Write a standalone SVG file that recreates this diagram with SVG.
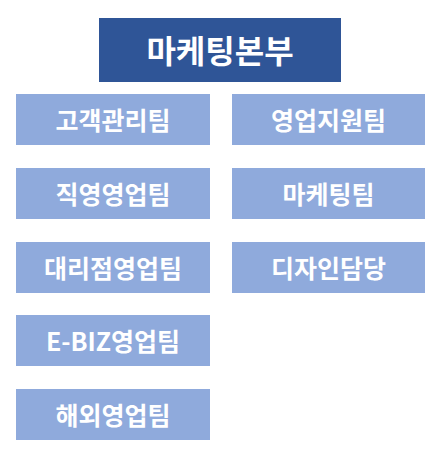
<svg xmlns="http://www.w3.org/2000/svg" width="447" height="453" viewBox="0 0 447 453">
<style>
.top{fill:#2F5597}
.box{fill:#8FAADC}
text{fill:#FFFFFF;font-family:"Noto Sans CJK KR","Noto Sans",sans-serif;font-weight:bold;text-anchor:middle;dominant-baseline:central}
.t1{font-size:32px}
.t2{font-size:25px}
</style>
<rect width="447" height="453" fill="#FFFFFF"/>
<g id="connectors"></g>
<g id="n-hq"><rect class="top" x="99" y="18" width="242" height="64"/><text class="t1" x="220" y="49">마케팅본부</text></g>
<g id="n-cs"><rect class="box" x="16" y="94" width="194" height="51"/><text class="t2" x="113" y="119">고객관리팀</text></g>
<g id="n-sup"><rect class="box" x="232" y="94" width="193" height="51"/><text class="t2" x="328.5" y="119">영업지원팀</text></g>
<g id="n-direct"><rect class="box" x="16" y="168" width="194" height="51"/><text class="t2" x="113" y="193">직영영업팀</text></g>
<g id="n-mkt"><rect class="box" x="232" y="168" width="193" height="51"/><text class="t2" x="328.5" y="193">마케팅팀</text></g>
<g id="n-agency"><rect class="box" x="16" y="242" width="194" height="51"/><text class="t2" x="113" y="267">대리점영업팀</text></g>
<g id="n-design"><rect class="box" x="232" y="242" width="193" height="51"/><text class="t2" x="328.5" y="267">디자인담당</text></g>
<g id="n-ebiz"><rect class="box" x="16" y="315" width="194" height="51"/><text class="t2" x="113" y="340">E-BIZ영업팀</text></g>
<g id="n-intl"><rect class="box" x="16" y="389" width="194" height="51"/><text class="t2" x="113" y="414">해외영업팀</text></g>
</svg>
